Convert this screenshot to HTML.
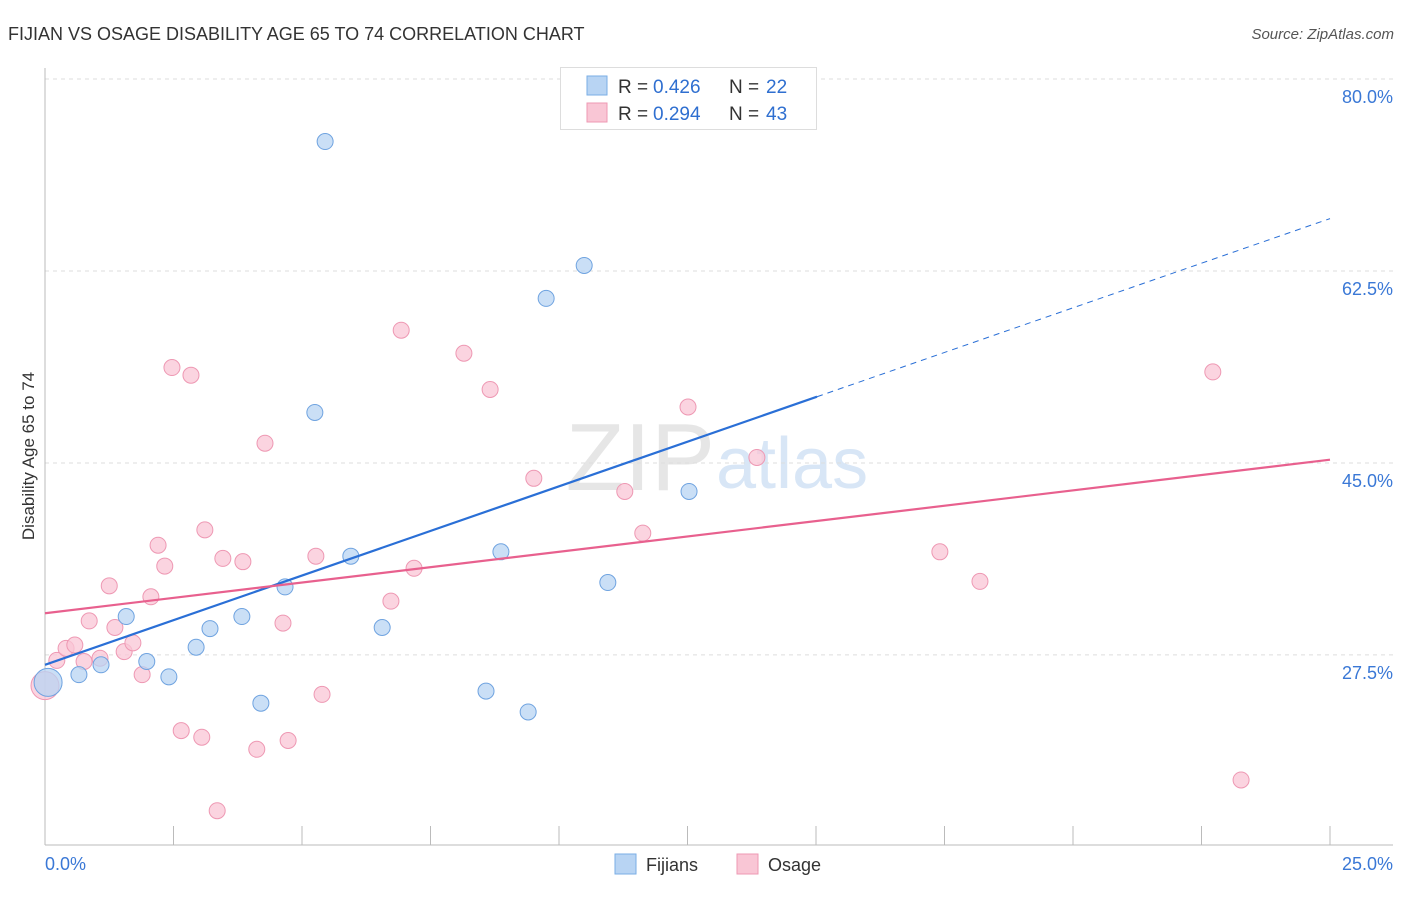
<!DOCTYPE html>
<html><head><meta charset="utf-8"><style>
body{margin:0;background:#fff;font-family:"Liberation Sans",sans-serif}
svg text{font-family:"Liberation Sans",sans-serif}
</style></head><body>
<svg id="c" width="1406" height="892">
<text x="8" y="40" font-size="18" fill="#333">FIJIAN VS OSAGE DISABILITY AGE 65 TO 74 CORRELATION CHART</text>
<text x="1394" y="39" font-size="15" fill="#555" font-style="italic" text-anchor="end">Source: ZipAtlas.com</text>
<text x="715" y="490" font-size="96" fill="#e6e6e6" text-anchor="end" font-family="Liberation Serif">ZIP</text>
<text x="716" y="488" font-size="72" fill="#d8e6f6">atlas</text>
<text transform="translate(34,456) rotate(-90)" font-size="17" fill="#333" text-anchor="middle">Disability Age 65 to 74</text>
<g id="grid"></g><g id="marks"></g>
<g>
<rect x="560.5" y="67.5" width="256" height="62" fill="#fff" stroke="#ddd"/>
<rect x="587" y="76" width="20" height="19" fill="#b8d4f3" stroke="#7aaee6"/>
<rect x="587" y="103" width="20" height="19" fill="#f9c6d5" stroke="#ee98b3"/>
<text x="618" y="93" font-size="19" fill="#333">R =</text>
<text x="653" y="93" font-size="19" fill="#2f6fd0">0.426</text>
<text x="729" y="93" font-size="19" fill="#333">N =</text>
<text x="766" y="93" font-size="19" fill="#2f6fd0">22</text>
<text x="618" y="120" font-size="19" fill="#333">R =</text>
<text x="653" y="120" font-size="19" fill="#2f6fd0">0.294</text>
<text x="729" y="120" font-size="19" fill="#333">N =</text>
<text x="766" y="120" font-size="19" fill="#2f6fd0">43</text>
</g>
<g>
<rect x="615" y="854" width="21" height="20" fill="#b8d4f3" stroke="#7aaee6"/>
<text x="646" y="871" font-size="18" fill="#333">Fijians</text>
<rect x="737" y="854" width="21" height="20" fill="#f9c6d5" stroke="#ee98b3"/>
<text x="768" y="871" font-size="18" fill="#333">Osage</text>
</g>
</svg>
<script>
const yTicks=[80,62.5,45,27.5];
const xTickLabels=["0.0%","25.0%"];
const fijX=[0.06,0.66,1.09,1.58,1.98,2.41,2.94,3.21,3.83,4.20,4.67,5.25,5.45,5.95,6.56,8.58,8.87,9.40,9.75,10.49,10.95,12.53];
const fijY=[25.0,25.7,26.6,31.0,26.9,25.5,28.2,29.9,31.0,23.1,33.7,49.6,74.3,36.5,30.0,24.2,36.9,22.3,60.0,63.0,34.1,42.4];
const osaX=[0,0.23,0.41,0.58,0.76,0.86,1.07,1.25,1.36,1.54,1.71,1.89,2.06,2.20,2.33,2.47,2.65,2.84,3.05,3.11,3.35,3.46,3.85,4.12,4.28,4.63,4.73,5.27,5.39,6.73,6.93,7.18,8.15,8.66,9.51,11.28,11.63,12.51,13.85,17.41,18.19,22.72,23.27];
const osaY=[24.7,27.0,28.1,28.4,26.9,30.6,27.2,33.8,30.0,27.8,28.6,25.7,32.8,37.5,35.6,53.7,20.6,53.0,20.0,38.9,13.3,36.3,36.0,18.9,46.8,30.4,19.7,36.5,23.9,32.4,57.1,35.4,55.0,51.7,43.6,42.4,38.6,50.1,45.5,36.9,34.2,53.3,16.1];
const fijTrend=[26.6,1.627,15.02];
const osaTrend=[31.3,0.56];
const X=v=>45+v*51.4, Y=v=>79+(80-v)*10.97;
const NS="http://www.w3.org/2000/svg";
function mk(t,a,p){const e=document.createElementNS(NS,t);for(const k in a)e.setAttribute(k,a[k]);p.appendChild(e);return e;}
const g=document.getElementById('grid'),m=document.getElementById('marks');
yTicks.forEach(v=>{
 const l=mk('line',{x1:45,x2:1393,y1:Y(v),y2:Y(v),stroke:'#ddd','stroke-dasharray':'4,4'},g);
 
 
 const t=mk('text',{x:1393,y:Y(v)+24,'font-size':18,fill:'#3a78d6','text-anchor':'end'},g);t.textContent=v.toFixed(1)+'%';
 
 
});
mk('line',{x1:45,x2:45,y1:68,y2:845,stroke:'#bbb'},g);
mk('line',{x1:45,x2:1393,y1:845,y2:845,stroke:'#bbb'},g);
for(let i=0;i<=10;i++){const tk=mk('line',{x1:X(i*2.5),x2:X(i*2.5),y1:826,y2:845,stroke:'#bbb'},g);
 
 }
[[0,'start',45],[25,'end',1393]].forEach((d,i)=>{const t=mk('text',{x:d[2],y:870,'font-size':18,fill:'#3a78d6','text-anchor':d[1]},g);t.textContent=xTickLabels[i];
 
 });
function pts(xs,ys,fill,stroke,name){xs.forEach((x,i)=>{const r=(i==0)?14:8;
 const c=mk('circle',{cx:X(x),cy:Y(ys[i]),r:r,fill:fill,'fill-opacity':0.75,stroke:stroke,'stroke-width':1},m);
 
 });}
pts(osaX,osaY,'#f9c6d5','#ee98b3','osage-point');
pts(fijX,fijY,'#b8d4f3','#6fa3e0','fijian-point');
const b1=mk('line',{x1:X(0),y1:Y(fijTrend[0]),x2:X(fijTrend[2]),y2:Y(fijTrend[0]+fijTrend[1]*fijTrend[2]),stroke:'#2a6fd6','stroke-width':2.2},m);


const b2=mk('line',{x1:X(fijTrend[2]),y1:Y(fijTrend[0]+fijTrend[1]*fijTrend[2]),x2:X(25),y2:Y(fijTrend[0]+fijTrend[1]*25),stroke:'#2a6fd6','stroke-width':1,'stroke-dasharray':'6,5'},m);


const p1=mk('line',{x1:X(0),y1:Y(osaTrend[0]),x2:X(25),y2:Y(osaTrend[0]+osaTrend[1]*25),stroke:'#e8608e','stroke-width':2.2},m);


</script>
</body></html>
